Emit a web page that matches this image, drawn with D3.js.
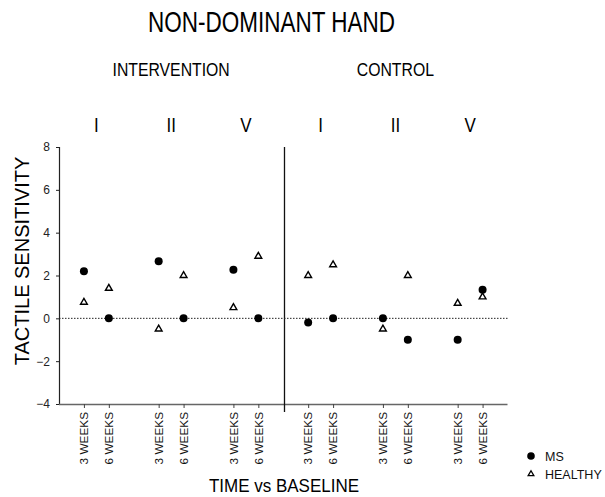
<!DOCTYPE html>
<html>
<head>
<meta charset="utf-8">
<script src="https://cdn.jsdelivr.net/npm/d3@7"></script>
<style>
    body { margin: 0; background: #fff; }
    svg { display: block; font-family: "Liberation Sans", Arial, sans-serif; }
</style>
</head>
<body>
<div id="chart"></div>
<script>
const slotIndex = [0, 1, 3, 4, 6, 7, 9, 10, 12, 13, 15, 16];
const tickLabels = ["3 WEEKS", "6 WEEKS", "3 WEEKS", "6 WEEKS", "3 WEEKS", "6 WEEKS",
    "3 WEEKS", "6 WEEKS", "3 WEEKS", "6 WEEKS", "3 WEEKS", "6 WEEKS"];
const msValues = [2.2, 0, 2.67, 0, 2.27, 0, -0.2, 0, 0, -1, -1, 1.33];
const healthyValues = [0.75, 1.4, -0.5, 2.0, 0.5, 2.9, 2.0, 2.5, -0.5, 2.0, 0.7, 1.0];
const fingerLabels = ["I", "II", "V", "I", "II", "V"];
const fingerIndex = [0.5, 3.5, 6.5, 9.5, 12.5, 15.5];
const armLabels = ["INTERVENTION", "CONTROL"];
const armIndex = [3.5, 12.5];
const yTicks = [-4, -2, 0, 2, 4, 6, 8];
const seriesNames = ["MS", "HEALTHY"];

const width = 605;
const height = 497;

const svg = d3.select("#chart")
    .append("svg")
    .attr("width", width)
    .attr("height", height);

const x = d3.scaleLinear().domain([-1, 17]).range([59, 507.5]);
const y = d3.scaleLinear().domain([-4, 8]).range([404, 147]);

const label = (px, py, txt, size, anchor, rotate, stretch) => {
    let t = `translate(${px},${py})`;
    if (rotate) t += ` rotate(${rotate})`;
    if (stretch) t += ` scale(1,${stretch})`;
    svg.append("text")
        .attr("transform", t)
        .attr("text-anchor", anchor)
        .style("font-size", size + "px")
        .attr("fill", "#000")
        .text(txt);
};

// headings in the original are drawn taller than they are wide
label(271.5, 32, "NON-DOMINANT HAND", 22.5, "middle", 0, 1.3);

armLabels.forEach((d, i) => label(x(armIndex[i]), 76, d, 15.8, "middle", 0, 1.15));
fingerLabels.forEach((d, i) => label(x(fingerIndex[i]), 132, d, 17, "middle", 0, 1.15));

// y axis
const yAxis = svg.append("g")
    .attr("transform", `translate(${x(-1)},0)`)
    .call(d3.axisLeft(y).tickValues(yTicks).tickSize(3).tickPadding(6));
yAxis.select(".domain").attr("stroke", "#222").attr("stroke-width", 1.2);
yAxis.selectAll(".tick line").attr("stroke", "#222");
yAxis.selectAll(".tick text")
    .style("font-size", "12px")
    .attr("fill", "#222")
    .attr("font-family", "Liberation Sans, Arial, sans-serif");

// x axis
const xAxis = svg.append("g")
    .attr("transform", `translate(0,${y(-4)})`)
    .call(d3.axisBottom(x).tickValues(slotIndex).tickSize(4).tickFormat(""));
xAxis.select(".domain").attr("stroke", "#666").attr("stroke-width", 1.6)
    .attr("d", `M${x(-1)},0.5H${x(17)}`);
xAxis.selectAll(".tick line").attr("stroke", "#444");

slotIndex.forEach((d, i) => {
    svg.append("text")
        .attr("transform", `translate(${x(d) + 4.3},${y(-4) + 8}) rotate(-90)`)
        .attr("text-anchor", "end")
        .style("font-size", "11.8px")
        .attr("fill", "#111")
        .text(tickLabels[i]);
});

// divider between arms
svg.append("line")
    .attr("x1", x(8.05)).attr("x2", x(8.05))
    .attr("y1", y(8)).attr("y2", y(-4) + 8)
    .attr("stroke", "#111")
    .attr("stroke-width", 1.3);

// zero line
svg.append("line")
    .attr("x1", x(-1)).attr("x2", x(17))
    .attr("y1", y(0)).attr("y2", y(0))
    .attr("stroke", "#222")
    .attr("stroke-width", 1)
    .attr("stroke-dasharray", "1.5,1.5");

const triangle = d3.symbol().type(d3.symbolTriangle).size(20);

svg.append("g").selectAll("path")
    .data(healthyValues)
    .join("path")
    .attr("d", triangle)
    .attr("transform", (d, i) => `translate(${x(slotIndex[i])},${y(d)})`)
    .attr("fill", "#fff")
    .attr("stroke", "#000")
    .attr("stroke-width", 1.4);

svg.append("g").selectAll("circle")
    .data(msValues)
    .join("circle")
    .attr("cx", (d, i) => x(slotIndex[i]))
    .attr("cy", d => y(d))
    .attr("r", 4)
    .attr("fill", "#000");

// axis titles
label(29, 261, "TACTILE SENSITIVITY", 20, "middle", -90);
label(284, 492, "TIME vs BASELINE", 17, "middle", 0, 1.05);

// legend
const legend = svg.append("g").attr("transform", "translate(531,456)");
legend.append("circle").attr("cx", 0).attr("cy", 0).attr("r", 3.8).attr("fill", "#000");
legend.append("path").attr("d", d3.symbol().type(d3.symbolTriangle).size(14))
    .attr("transform", "translate(0,18)")
    .attr("fill", "#fff").attr("stroke", "#000").attr("stroke-width", 1.3);
seriesNames.forEach((d, i) => {
    legend.append("text")
        .attr("x", 14)
        .attr("y", i * 18 + 4.5)
        .style("font-size", "12.5px")
        .attr("fill", "#111")
        .text(d);
});
</script>
</body>
</html>
